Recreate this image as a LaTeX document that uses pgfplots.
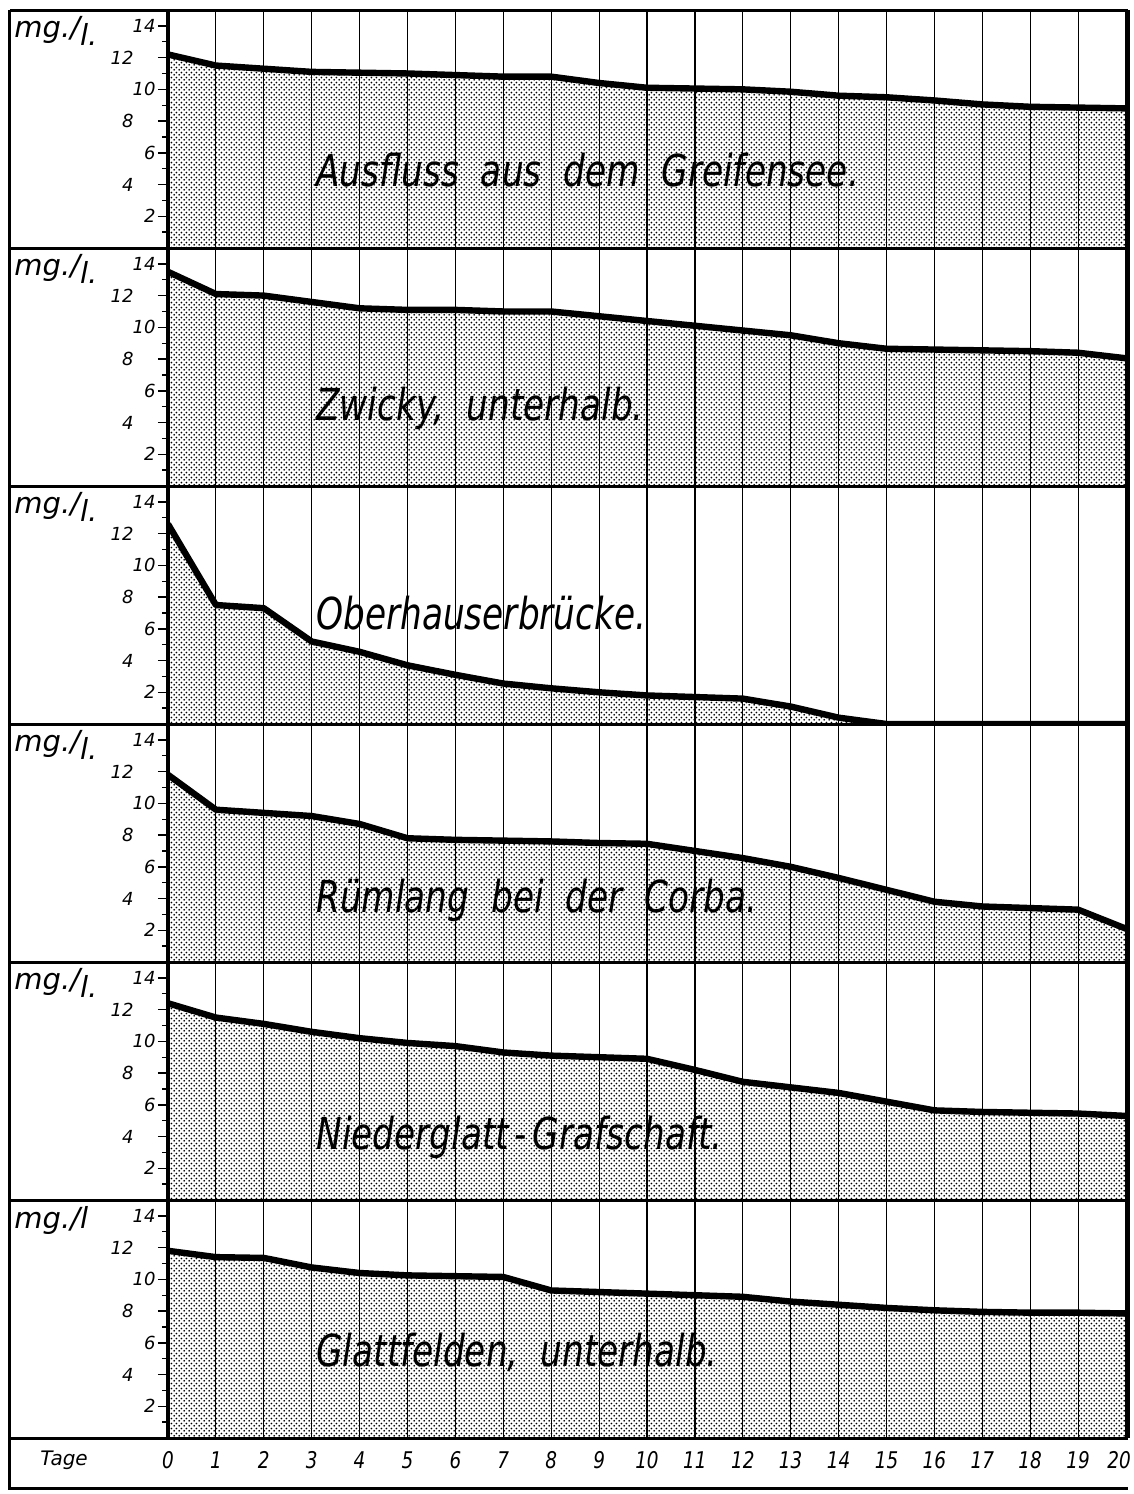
\documentclass[border=0pt]{standalone}
\usepackage{fontspec}
\setmainfont{DejaVu Sans}
\usepackage{pgfplots}
\pgfplotsset{compat=1.18}
\usepackage{pgfplotstable}
\usetikzlibrary{patterns.meta}

\pgfdeclarepattern{
  name=finedots,
  type=uncolored,
  bottom left={\pgfpointorigin},
  top right={\pgfqpoint{2.4pt}{2.4pt}},
  tile size={\pgfqpoint{2.4pt}{2.4pt}},
  code={
    \pgfpathcircle{\pgfqpoint{0.6pt}{0.6pt}}{0.5pt}
    \pgfpathcircle{\pgfqpoint{1.8pt}{1.8pt}}{0.5pt}
    \pgfusepath{fill}
  }
}

\pgfplotstableread{
day a b c d e f
0 12.2 13.5 12.6 11.8 12.4 11.8
1 11.5 12.1 7.5 9.6 11.5 11.4
2 11.3 12.0 7.3 9.4 11.1 11.35
3 11.1 11.6 5.2 9.2 10.6 10.75
4 11.05 11.2 4.55 8.7 10.2 10.4
5 11.0 11.1 3.7 7.8 9.9 10.25
6 10.9 11.1 3.1 7.7 9.7 10.2
7 10.8 11.0 2.55 7.65 9.3 10.15
8 10.8 11.0 2.25 7.6 9.1 9.3
9 10.4 10.7 2.0 7.5 9.0 9.2
10 10.1 10.4 1.8 7.45 8.9 9.1
11 10.05 10.1 1.7 7.0 8.2 9.0
12 10.0 9.8 1.6 6.55 7.45 8.9
13 9.85 9.5 1.1 6.0 7.1 8.6
14 9.6 9.0 0.4 5.3 6.75 8.4
15 9.5 8.65 0 4.55 6.2 8.2
16 9.3 8.6 0 3.8 5.65 8.05
17 9.05 8.55 0 3.5 5.55 7.95
18 8.9 8.5 0 3.4 5.5 7.9
19 8.85 8.4 0 3.3 5.45 7.9
20 8.8 8.05 0 2.1 5.3 7.85
}\datatable

\newcommand{\plab}[1]{\scalebox{0.78}[1]{\fontsize{22}{22}\selectfont\itshape #1}}
\newcommand{\mgl}{\fontsize{14.5}{14.5}\selectfont\itshape mg./\raisebox{-4pt}{l.}}
\newcommand{\xl}[1]{\scalebox{0.8}[1]{#1}}

\pgfplotsset{panel/.style={
  scale only axis, width=479pt, height=119pt,
  xmin=0, xmax=20, ymin=0, ymax=15,
  anchor=north west,
  axis line style={line width=1.5pt},
  xtick={0,...,20}, xticklabels={},
  xmajorgrids, major x grid style={black, line width=0.6pt},
  xtick style={draw=none},
  xtick pos=bottom, ytick pos=left,
  ytick={2,4,...,14}, minor ytick={1,3,...,13},
  yticklabels={2,4\hspace*{11pt},6,8\hspace*{11pt},10,12\hspace*{11pt},14},
  tick align=outside,
  ytick style={black, line width=0.7pt},
  major tick length=5pt, minor tick length=2.8pt,
  yticklabel style={font=\fontsize{9}{9}\selectfont\itshape, inner sep=1pt},
  axis on top, clip=true,
}}

\begin{document}
\begin{tikzpicture}
\useasboundingbox (-84pt,5pt) rectangle (483pt,-742pt);

\begin{axis}[panel, at={(0pt,0pt)}]
\addplot[draw=none, pattern=finedots, pattern color=black] table[x=day,y=a]{\datatable} \closedcycle;
\addplot[line width=3.2pt, line join=round] table[x=day,y=a]{\datatable};
\node[anchor=west] at (axis cs:2.95,4.9) {\plab{Ausfluss\ \ aus\ \ dem\ \ Greifensee.}};
\end{axis}

\begin{axis}[panel, at={(0pt,-119pt)}]
\addplot[draw=none, pattern=finedots, pattern color=black] table[x=day,y=b]{\datatable} \closedcycle;
\addplot[line width=3.2pt, line join=round] table[x=day,y=b]{\datatable};
\node[anchor=west] at (axis cs:2.95,4.9) {\plab{Zwicky,\ \ unterhalb.}};
\end{axis}

\begin{axis}[panel, at={(0pt,-238pt)}]
\addplot[draw=none, pattern=finedots, pattern color=black] table[x=day,y=c]{\datatable} \closedcycle;
\addplot[line width=3.2pt, line join=round] table[x=day,y=c]{\datatable};
\node[anchor=west] at (axis cs:2.95,7.0) {\plab{Oberhauserbrücke.}};
\end{axis}

\begin{axis}[panel, at={(0pt,-357pt)}]
\addplot[draw=none, pattern=finedots, pattern color=black] table[x=day,y=d]{\datatable} \closedcycle;
\addplot[line width=3.2pt, line join=round] table[x=day,y=d]{\datatable};
\node[anchor=west] at (axis cs:2.95,3.9) {\plab{Rümlang\ \ bei\ \ der\ \ Corba.}};
\end{axis}

\begin{axis}[panel, at={(0pt,-476pt)}]
\addplot[draw=none, pattern=finedots, pattern color=black] table[x=day,y=e]{\datatable} \closedcycle;
\addplot[line width=3.2pt, line join=round] table[x=day,y=e]{\datatable};
\node[anchor=west] at (axis cs:2.95,3.95) {\plab{Niederglatt\,-\,Grafschaft.}};
\end{axis}

\begin{axis}[panel, at={(0pt,-595pt)},
  xticklabels={\xl{0},\xl{1},\xl{2},\xl{3},\xl{4},\xl{5},\xl{6},\xl{7},\xl{8},\xl{9},\xl{10},\xl{11},\xl{12},\xl{13},\xl{14},\xl{15},\xl{16},\xl{17},\xl{18},\xl{19},{\xl{20}\hspace*{7pt}}},
  xticklabel style={font=\fontsize{11.5}{12}\selectfont\itshape, anchor=center, yshift=-6pt}]
\addplot[draw=none, pattern=finedots, pattern color=black] table[x=day,y=f]{\datatable} \closedcycle;
\addplot[line width=3.2pt, line join=round] table[x=day,y=f]{\datatable};
\node[anchor=west] at (axis cs:2.95,5.4) {\plab{Glattfelden,\ \ unterhalb.}};
\end{axis}

% frame of the sheet
\foreach \k in {0,1,2,3,4,5,6} {
  \draw[line width=1.5pt] (-79pt,-119pt*\k) -- (480pt,-119pt*\k);
}
\draw[line width=1.5pt] (-79pt,0pt) -- (-79pt,-739pt) -- (480pt,-739pt);
\draw[line width=1.5pt] (480pt,0pt) -- (480pt,-714pt);
\draw[line width=2.2pt] (0pt,0pt) -- (0pt,-714pt);

% unit labels
\foreach \k in {0,1,2,3,4} {
  \node[anchor=north west, inner sep=0pt] at (-77pt,-119pt*\k-3pt) {\mgl};
}
\node[anchor=north west, inner sep=0pt] at (-77pt,-598pt) {\fontsize{14.5}{14.5}\selectfont\itshape mg./l};
\node[anchor=west, inner sep=0pt] at (-64pt,-725pt) {\fontsize{10}{10}\selectfont\itshape Tage};
\end{tikzpicture}
\end{document}
